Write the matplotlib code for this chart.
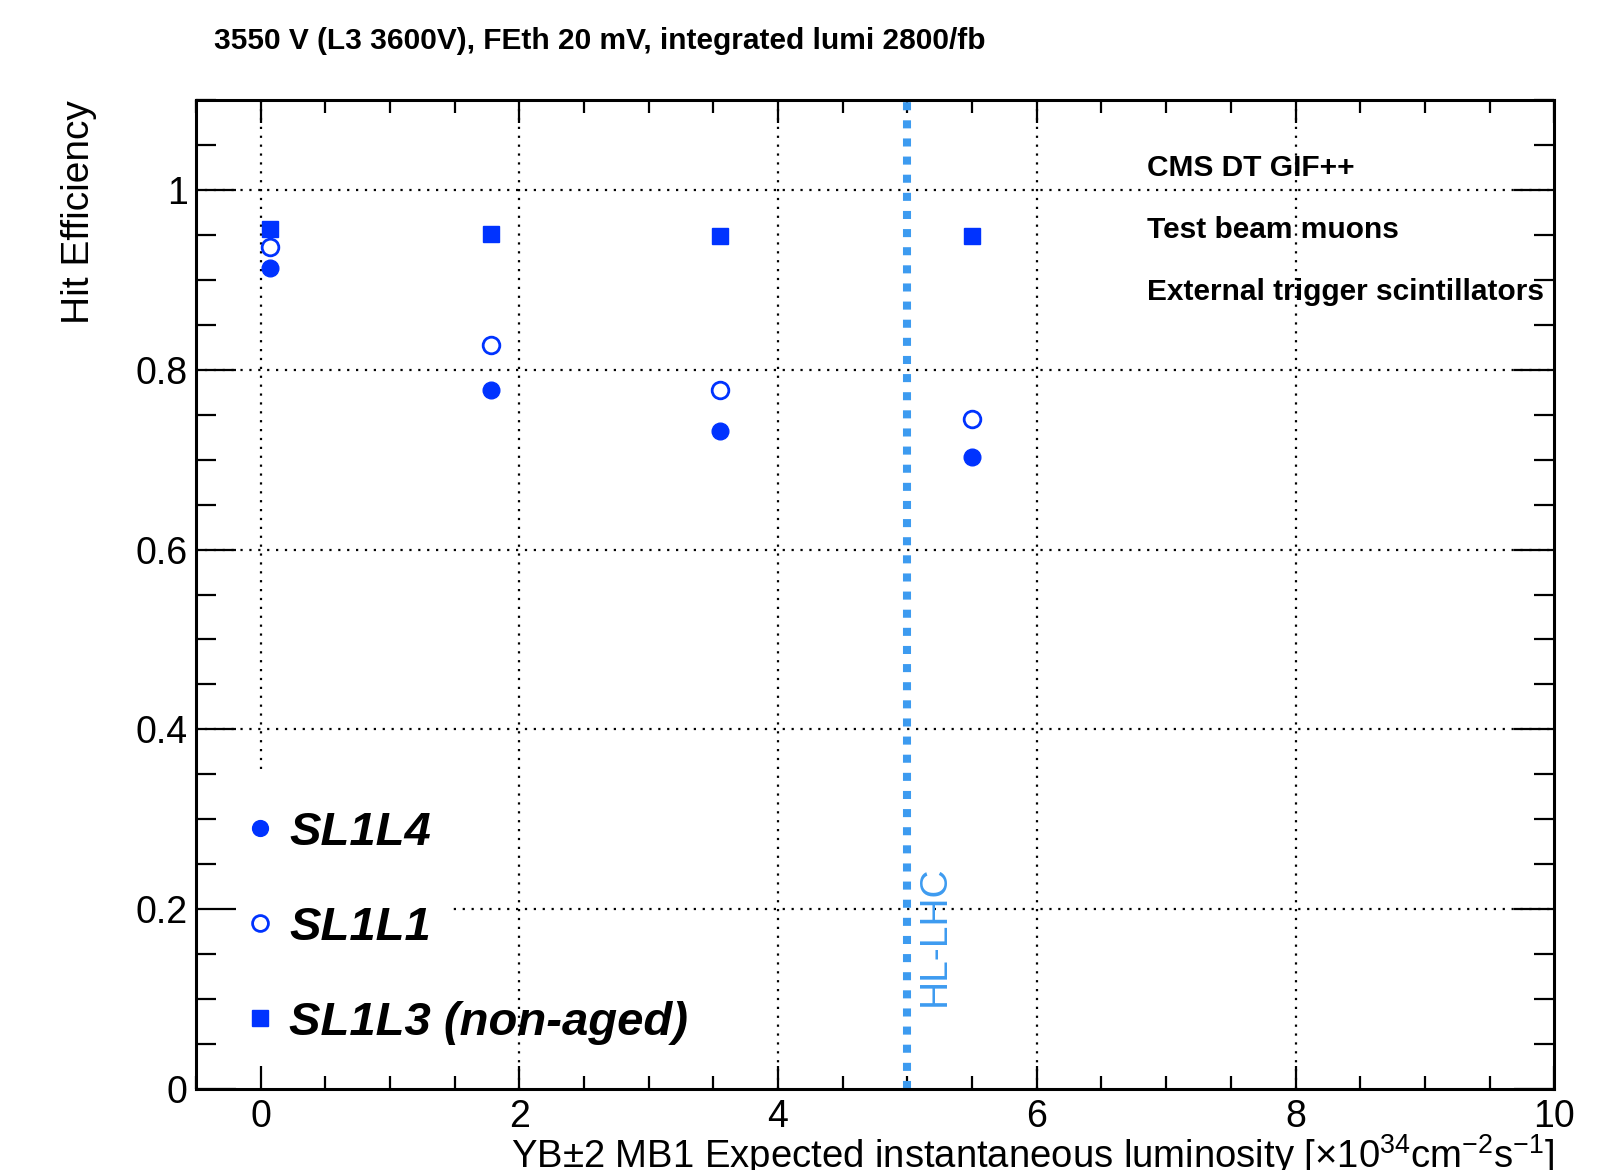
import numpy as np
import matplotlib
matplotlib.use('Agg')
import matplotlib.pyplot as plt
from matplotlib.ticker import MultipleLocator
from matplotlib.patches import Rectangle

plt.rcParams['font.family'] = ['Liberation Sans', 'DejaVu Sans']
plt.rcParams['mathtext.fontset'] = 'custom'
plt.rcParams['mathtext.rm'] = 'Liberation Sans'
plt.rcParams['mathtext.it'] = 'Liberation Sans:italic'

# luminosity points and hit efficiencies
lumi = [0.07, 1.78, 3.55, 5.5]
eff_sl1l4 = [0.913, 0.778, 0.732, 0.703]
eff_sl1l1 = [0.937, 0.828, 0.778, 0.745]
eff_sl1l3 = [0.957, 0.951, 0.949, 0.949]
hl_lhc = 5.0

title = '3550 V (L3 3600V), FEth 20 mV, integrated lumi 2800/fb'
info_lines = ['CMS DT GIF++', 'Test beam muons', 'External trigger scintillators']

blue = '#0033ff'
azure = '#3d9bf0'

fig = plt.figure(figsize=(16.19, 11.70), dpi=100)
ax = fig.add_axes([0.121, 0.0692, 0.839, 0.8453])

ax.set_xlim(-0.5, 10)
ax.set_ylim(0, 1.1)

# dotted grid
for gx in [0, 2, 4, 6, 8]:
    ax.axvline(gx, color='black', lw=1.6, ls=(0, (1, 3)), zorder=0.5)
for gy in [0.2, 0.4, 0.6, 0.8, 1.0]:
    ax.axhline(gy, color='black', lw=1.6, ls=(0, (1, 3)), zorder=0.5)

# legend box background (hides grid like ROOT TLegend)
ax.add_patch(Rectangle((-0.5, 0), 1.99, 0.35, facecolor='white',
                       edgecolor='none', zorder=1))

# HL-LHC line
ax.axvline(hl_lhc, color=azure, lw=5.8, ls=(0, (1, 1.25)), zorder=2,
           dash_capstyle='butt')
ax.text(5.21, 0.17, 'HL-LHC', rotation=90, color=azure, fontsize=28,
        ha='center', va='center', zorder=3)

ax.plot(lumi, eff_sl1l4, 'o', color=blue, ms=12, ls='none', label='SL1L4', zorder=4)
ax.plot(lumi, eff_sl1l1, 'o', mfc='white', mec=blue, mew=2, ms=12, ls='none',
        label='SL1L1', zorder=4)
ax.plot(lumi, eff_sl1l3, 's', color=blue, ms=12, ls='none',
        label='SL1L3 (non-aged)', zorder=4)

leg = ax.legend(loc='upper left', bbox_to_anchor=(0.02, 0.305), frameon=False,
                prop={'size': 34, 'weight': 'bold', 'style': 'italic'},
                handlelength=0.55, handletextpad=0.35, labelspacing=1.08,
                borderpad=0, markerscale=0.95)

for i, line in enumerate(info_lines):
    ax.text(6.85, 1.024 - i * 0.069, line, fontsize=21.5, fontweight='bold',
            ha='left', va='center', zorder=3)

fig.text(0.132, 0.965, title, fontsize=21.5, fontweight='bold', ha='left', va='center')

ax.xaxis.set_major_locator(MultipleLocator(2))
ax.xaxis.set_minor_locator(MultipleLocator(0.5))
ax.yaxis.set_major_locator(MultipleLocator(0.2))
ax.yaxis.set_minor_locator(MultipleLocator(0.05))
ax.set_yticks([0, 0.2, 0.4, 0.6, 0.8, 1.0])
ax.set_yticklabels(['0', '0.2', '0.4', '0.6', '0.8', '1'])

ax.tick_params(axis='both', which='both', direction='in', top=True, right=True,
               labelsize=27, width=1.6, color='black')
ax.tick_params(axis='x', which='major', length=16.6, pad=7)
ax.tick_params(axis='x', which='minor', length=9.4)
ax.tick_params(axis='y', which='major', length=29, pad=6)
ax.tick_params(axis='y', which='minor', length=14.4)
for sp in ax.spines.values():
    sp.set_linewidth(2.2)

ax.set_ylabel('Hit Efficiency', fontsize=28, loc='top')
ax.yaxis.set_label_coords(-0.073, 1.0)
ax.set_xlabel(r'YB$\pm$2 MB1 Expected instantaneous luminosity [$\times$10$^{34}$cm$^{-2}$s$^{-1}$]',
              fontsize=27.5, loc='right')
ax.xaxis.label.set_va('baseline')
ax.xaxis.set_label_coords(1.0, -0.0799)

fig.savefig('out.png', dpi=100)
